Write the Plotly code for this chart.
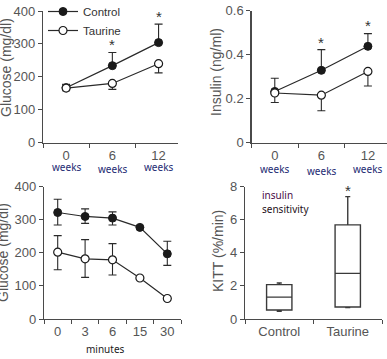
import plotly.graph_objects as go

# ---------------- data ----------------
weeks = ["0", "6", "12"]
glu_control = [167, 234, 304]
glu_control_up = [10, 40, 56]
glu_taurine = [166, 180, 240]
glu_taurine_dn = [8, 18, 28]
glu_star_y = [None, 302, 386]

ins_control = [0.233, 0.329, 0.438]
ins_control_up = [0.060, 0.094, 0.058]
ins_taurine = [0.226, 0.216, 0.324]
ins_taurine_dn = [0.043, 0.071, 0.066]
ins_star_y = [None, 0.460, 0.536]

minutes = ["0", "3", "6", "15", "30"]
itt_control = [322, 310, 305, 277, 197]
itt_control_up = [40, 23, 19, 0, 38]
itt_control_dn = [38, 21, 21, 0, 35]
itt_taurine = [202, 182, 179, 124, 62]
itt_taurine_up = [50, 58, 49, 0, 0]
itt_taurine_dn = [53, 56, 46, 0, 0]

groups = ["Control", "Taurine"]
kitt_lower = [0.46, 0.69]
kitt_q1 = [0.54, 0.73]
kitt_median = [1.32, 2.76]
kitt_q3 = [2.08, 5.69]
kitt_upper = [2.18, 7.40]
kitt_star_y = [None, 7.86]

W, H = 387, 359
INK = "#2a2a2a"
AX = "#4a4a4a"
TXT = "#555555"
FONT = "Liberation Sans, Arial, sans-serif"
NOTE = "Noto Sans, sans-serif"


def px_x(a, b):
    return [a / W, b / W]


def px_y(top, bottom):
    return [1 - bottom / H, 1 - top / H]


fig = go.Figure()


def add_pair(xs, c, cu, cd, t, tu, td, xa, ya, legend):
    fig.add_trace(go.Scatter(
        x=xs, y=c, name="Control", mode="lines+markers", xaxis=xa, yaxis=ya,
        showlegend=legend, cliponaxis=False,
        line=dict(color=INK, width=1.2),
        marker=dict(size=8, color="#1a1a1a", line=dict(color="#1a1a1a", width=1)),
        error_y=dict(type="data", symmetric=False, array=cu, arrayminus=cd,
                     color=INK, thickness=1.1, width=4)))
    fig.add_trace(go.Scatter(
        x=xs, y=t, name="Taurine", mode="lines+markers", xaxis=xa, yaxis=ya,
        showlegend=legend, cliponaxis=False,
        line=dict(color=INK, width=1.2),
        marker=dict(size=8, color="white", line=dict(color="#1a1a1a", width=1.2)),
        error_y=dict(type="data", symmetric=False, array=tu, arrayminus=td,
                     color=INK, thickness=1.1, width=4)))


zeros3 = [0, 0, 0]
add_pair(weeks, glu_control, glu_control_up, zeros3,
         glu_taurine, zeros3, glu_taurine_dn, "x", "y", True)
add_pair(weeks, ins_control, ins_control_up, zeros3,
         ins_taurine, zeros3, ins_taurine_dn, "x2", "y2", False)
add_pair(minutes, itt_control, itt_control_up, itt_control_dn,
         itt_taurine, itt_taurine_up, itt_taurine_dn, "x3", "y3", False)

fig.add_trace(go.Box(
    x=groups, q1=kitt_q1, median=kitt_median, q3=kitt_q3,
    lowerfence=kitt_lower, upperfence=kitt_upper,
    xaxis="x4", yaxis="y4", showlegend=False, width=0.37, whiskerwidth=0.2,
    fillcolor="rgba(255,255,255,0)", line=dict(color="#3a3a3a", width=1.4),
    boxpoints=False, hoverinfo="skip"))

ann = []


def stars(n, ys, xa, ya):
    # category axes: use the category index for annotation positions
    for i, yv in zip(range(n), ys):
        if yv is None:
            continue
        ann.append(dict(x=i, y=yv, xref=xa, yref=ya, text="*", showarrow=False,
                        xanchor="center", yanchor="middle", yshift=-1,
                        font=dict(family=FONT, size=15, color="#333333")))


stars(len(weeks), glu_star_y, "x", "y")
stars(len(weeks), ins_star_y, "x2", "y2")
stars(len(groups), kitt_star_y, "x4", "y4")

# "weeks" sub labels
for xa, ys in (("x", [167, 169, 167]), ("x2", [169, 171, 169])):
    for i, yp in zip(range(len(weeks)), ys):
        ann.append(dict(x=i, y=1 - yp / H, xref=xa, yref="paper", text="weeks",
                        showarrow=False, xanchor="center", yanchor="middle",
                        font=dict(family=NOTE, size=10, color="#1c2a72")))

ann.append(dict(x=105 / W, y=1 - 349 / H, xref="paper", yref="paper", text="minutes",
                showarrow=False, xanchor="center", yanchor="middle",
                font=dict(family=NOTE, size=10, color="#1a1a1a")))
ann.append(dict(x=260 / W, y=1 - 195 / H, xref="paper", yref="paper", text="insulin",
                showarrow=False, xanchor="left", yanchor="middle",
                font=dict(family=NOTE, size=10, color="#4a0a48")))
ann.append(dict(x=260 / W, y=1 - 209 / H, xref="paper", yref="paper", text="sensitivity",
                showarrow=False, xanchor="left", yanchor="middle",
                font=dict(family=NOTE, size=10, color="#1e1020")))

# y axis titles
for txt, xp, yp in (("Glucose (mg/dl)", 6, 68), ("Insulin (ng/ml)", 216, 72),
                    ("Glucose (mg/dl)", 3, 253), ("KITT (%/min)", 218, 251)):
    ann.append(dict(x=xp / W, y=1 - yp / H, xref="paper", yref="paper", text=txt,
                    textangle=-90, showarrow=False, xanchor="center", yanchor="middle",
                    font=dict(family=FONT, size=14, color=TXT)))

xcommon = dict(type="category", showline=True, linecolor=AX, linewidth=1.2,
               ticks="outside", ticklen=4, tickcolor=AX, tickson="boundaries",
               showgrid=False, zeroline=False, automargin=False,
               tickfont=dict(family=FONT, size=13, color=TXT))
ycommon = dict(showline=True, linecolor=AX, linewidth=1.2, ticks="outside",
               ticklen=4, tickcolor=AX, showgrid=False, zeroline=False,
               automargin=False,
               tickfont=dict(family=FONT, size=13, color=TXT))

fig.update_layout(
    template="none",
    width=W, height=H, margin=dict(l=0, r=0, t=0, b=0, pad=0, autoexpand=False),
    paper_bgcolor="white", plot_bgcolor="white",
    showlegend=True,
    legend=dict(x=43 / W, y=1 + 3 / H, xanchor="left", yanchor="top",
                bgcolor="rgba(0,0,0,0)", borderwidth=0, tracegroupgap=0,
                font=dict(family=FONT, size=11.5, color="#333333")),
    xaxis=dict(xcommon, domain=px_x(43, 178), range=[-0.5, 2.42], anchor="y"),
    yaxis=dict(ycommon, domain=px_y(11, 142.7), range=[0, 400],
               tickvals=[0, 100, 200, 300, 400], anchor="x"),
    xaxis2=dict(xcommon, domain=px_x(251.5, 387), range=[-0.5, 2.41], anchor="y2"),
    yaxis2=dict(ycommon, domain=px_y(10.7, 142.7), range=[0, 0.6],
                tickvals=[0, 0.2, 0.4, 0.6], anchor="x2"),
    xaxis3=dict(xcommon, domain=px_x(44, 181), range=[-0.5, 4.5], anchor="y3"),
    yaxis3=dict(ycommon, domain=px_y(186.7, 319), range=[0, 400],
                tickvals=[0, 100, 200, 300, 400], anchor="x3"),
    xaxis4=dict(xcommon, domain=px_x(245, 382), range=[-0.5, 1.5], anchor="y4"),
    yaxis4=dict(ycommon, domain=px_y(186.7, 319), range=[0, 8],
                tickvals=[0, 2, 4, 6, 8], anchor="x4"),
    annotations=ann,
)

# remove the browser's default 8px page margin so the figure fills the window
fig.write_html("out.html",
               config={"displayModeBar": False, "staticPlot": True},
               post_script="document.body.style.margin='0';"
                           "document.body.style.overflow='hidden';")
